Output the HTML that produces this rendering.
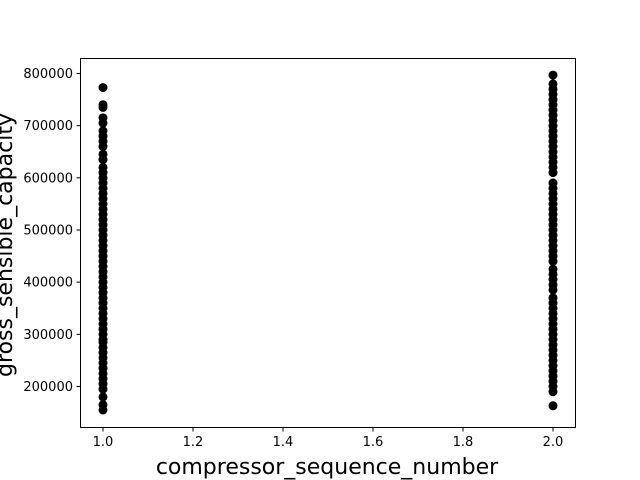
<!DOCTYPE html>
<html><head><meta charset="utf-8"><style>
body{margin:0;background:#fff;}
svg{display:block;font-family:"DejaVu Sans","Liberation Sans",sans-serif;}
</style></head><body>
<svg id="chart" width="640" height="480">
<rect width="640" height="480" fill="#fff"/>
<g id="marks"></g>
<rect x="80.5" y="58.5" width="495" height="369" fill="none" stroke="#000" stroke-width="1"/>
<g id="xt"></g>
<g id="yt"></g>
<text x="327" y="474" font-size="22" text-anchor="middle">compressor_sequence_number</text>
<text transform="translate(12,245) rotate(-90)" font-size="22" text-anchor="middle">gross_sensible_capacity</text>
</svg>
<script>
const xTicks=[1.0,1.2,1.4,1.6,1.8,2.0];
const xTickLabels=["1.0","1.2","1.4","1.6","1.8","2.0"];
const yTicks=[200000,300000,400000,500000,600000,700000,800000];
const yTickLabels=["200000","300000","400000","500000","600000","700000","800000"];
const seq1Values=[155000,165000,180000,195000,205000,215000,225000,235000,245000,255000,265000,275000,285000,290000,300000,310000,320000,330000,340000,350000,360000,370000,380000,390000,400000,410000,420000,430000,440000,450000,460000,470000,480000,490000,500000,510000,520000,530000,540000,550000,560000,570000,580000,590000,600000,610000,620000,635000,645000,660000,670000,680000,690000,705000,715000,735000,740000,773000];
const seq2Values=[163000,190000,200000,210000,220000,230000,240000,250000,260000,270000,280000,290000,300000,310000,320000,330000,340000,350000,360000,370000,385000,395000,405000,415000,425000,440000,450000,460000,470000,480000,490000,500000,510000,520000,530000,540000,550000,560000,570000,580000,590000,610000,620000,630000,640000,650000,660000,670000,680000,690000,700000,710000,720000,730000,740000,750000,760000,770000,780000,797000];
const NS="http://www.w3.org/2000/svg";
function xs(v){return 80.5+(v-0.95)/1.1*495;}
function ys(v){return 427.5-(v-121400)/(828750-121400)*369;}
const marks=document.getElementById('marks');
function addPts(x,vals,name){
  vals.forEach(v=>{
    const c=document.createElementNS(NS,'circle');
    c.setAttribute('cx',xs(x));c.setAttribute('cy',ys(v));c.setAttribute('r',4.5);c.setAttribute('fill','#000');
    
    
    marks.appendChild(c);
  });
}
addPts(1,seq1Values,'point-seq-1');
addPts(2,seq2Values,'point-seq-2');
const xt=document.getElementById('xt');
xTicks.forEach((t,i)=>{
  const x=xs(t);
  const l=document.createElementNS(NS,'line');
  l.setAttribute('x1',x);l.setAttribute('x2',x);l.setAttribute('y1',427.5);l.setAttribute('y2',431.5);l.setAttribute('stroke','#000');
  
  
  xt.appendChild(l);
  const tx=document.createElementNS(NS,'text');
  tx.setAttribute('x',x);tx.setAttribute('y',446);tx.setAttribute('font-size','13');tx.setAttribute('text-anchor','middle');
  tx.textContent=xTickLabels[i];
  
  
  xt.appendChild(tx);
});
const yt=document.getElementById('yt');
yTicks.forEach((t,i)=>{
  const y=ys(t);
  const l=document.createElementNS(NS,'line');
  l.setAttribute('x1',76.5);l.setAttribute('x2',80.5);l.setAttribute('y1',y);l.setAttribute('y2',y);l.setAttribute('stroke','#000');
  
  
  yt.appendChild(l);
  const tx=document.createElementNS(NS,'text');
  tx.setAttribute('x',73);tx.setAttribute('y',y+4.5);tx.setAttribute('font-size','13');tx.setAttribute('text-anchor','end');
  tx.textContent=yTickLabels[i];
  
  
  yt.appendChild(tx);
});
</script>
</body></html>
